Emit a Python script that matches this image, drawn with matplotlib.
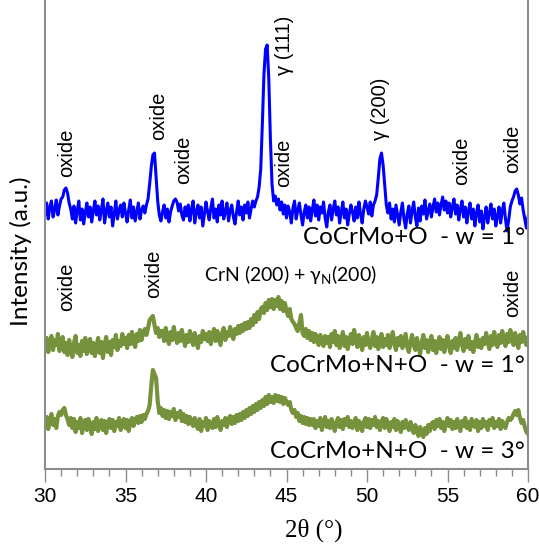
import numpy as np
import matplotlib
matplotlib.use("Agg")
import matplotlib.pyplot as plt

# Diffraction scans, 2-theta from 30 to 60 deg in 0.1 deg steps (intensity, arbitrary units, offset per scan)
co_cr_mo_o_w1 = [
    255, 266, 250, 262, 268, 252, 259, 269, 254, 263, 270,
    272, 279, 281, 276, 266, 260,
    250, 263, 246, 258, 268, 249, 260, 245, 256, 266, 252, 262, 247, 258,
    268, 254, 263, 249, 259, 270, 246, 257, 266, 252, 262, 243, 255, 268, 250, 259, 264, 252, 266,
    256, 247, 259, 269, 251, 262, 248, 257, 266, 250, 259, 263, 256,
    264, 270, 285, 302, 314, 316, 292, 268, 254, 248, 257,
    264, 251, 260, 247, 257, 263, 268, 270, 267, 258, 265, 254, 249, 262, 253, 264, 248,
    260, 268, 246, 257, 264, 251, 262, 243, 255, 267, 257, 249, 261, 270, 251, 260, 247, 264, 254, 268,
    250, 257, 266, 248, 259, 264, 252, 245, 257, 268, 254, 262, 249, 264, 256, 267, 251, 260, 268,
    262, 268, 272, 282, 300, 345, 395, 420, 424, 390, 330, 285, 268, 273, 264, 270, 259, 267, 255, 264,
    251, 263, 257, 246, 261, 268, 250, 259, 266, 254, 244, 257, 264, 251, 262, 248, 259, 269, 253, 264,
    249, 262, 256, 267, 251, 242, 257, 264, 249, 260, 268, 254, 262, 246, 257, 267, 251, 260, 244, 255,
    264, 257, 248, 262, 251, 267, 255, 246, 260, 268,
    262, 255, 267, 253, 264, 268, 274, 291, 310, 316, 304, 284, 264, 256, 266, 250,
    260, 247, 264, 254, 244, 257, 266, 250, 241, 255, 263, 246, 258, 267, 252, 243, 261, 248, 263, 255,
    269, 250, 258, 265, 252, 262, 270, 257, 266, 254, 264, 272, 259, 268, 256,
    266, 252, 262, 270, 255, 264, 249, 260, 268, 252, 262, 246, 258, 266, 250, 260, 243, 256, 264, 247,
    258, 240, 252, 262, 246, 256, 265, 250, 260, 243, 253, 262, 246, 258, 266, 250, 238, 249, 262, 268,
    272, 278, 280, 274, 265, 271, 259, 250, 241, 252,
]

co_cr_mo_n_o_w1 = [
    122, 131, 117, 127, 133, 119, 129, 124, 135, 118, 127,
    132, 117, 126, 114, 129, 120, 112, 126, 133, 116, 124, 113, 128, 118, 131, 115, 124, 130, 116,
    126, 113, 122, 131, 116, 127, 111, 124, 132, 117, 127, 114, 129, 122, 134, 119, 128, 123, 135, 125,
    131, 121, 134, 125, 137, 127, 122, 135, 128, 139, 129, 136, 140,
    134, 141, 149, 151, 153, 144, 136, 141, 132, 138,
    138, 128, 141, 131, 125, 137, 129, 142, 133, 126, 136, 128, 139, 131, 123, 134, 127, 138, 130, 124,
    136, 128, 121, 133, 127, 138, 130, 135,
    128, 137, 125, 134, 140, 128, 138, 131, 124, 136, 141, 129, 137, 133, 142, 134, 130, 140, 135, 143,
    136, 144, 138, 146, 140,
    147, 141, 150, 144, 154, 147, 157, 150, 160, 162, 156, 166, 159, 169, 162, 170, 160, 169, 163, 172,
    160, 168, 158, 166, 158, 153, 160, 150, 147, 145,
    141, 138, 146, 154, 136, 133, 140, 131, 138, 129, 136, 127, 135, 129, 124, 134, 127, 123, 133, 126,
    132, 122, 135, 127, 138, 124, 133, 121, 129, 137, 123, 132, 120, 128, 135, 125, 139, 129, 122, 134,
    127, 119, 132, 124, 136, 126, 121, 130, 137, 123, 132, 120, 128, 135, 122, 130, 124, 134, 121, 128,
    137, 125, 119, 131, 124,
    133, 121, 128, 135, 122, 117, 127, 134, 124, 119, 131, 122, 115, 127, 134, 121, 129, 117, 126, 133,
    119, 128, 116, 124, 132, 120, 129, 117, 126, 133, 122, 116, 128, 121, 131, 119, 128, 136, 124, 118,
    130, 122, 133, 120, 127, 117, 126, 134, 122, 129,
    121, 131, 125, 136, 127, 120, 133, 124, 137, 128, 122, 134, 126, 138, 129, 123, 135, 127, 139, 130,
    124, 136, 128, 121, 134, 127, 137, 129, 124, 131,
]

co_cr_mo_n_o_w3 = [
    43, 52, 40, 49, 55, 44, 50, 41, 53, 57, 54,
    59, 61, 54, 50, 44, 51,
    41, 50, 37, 47, 41, 51, 36, 46, 49, 39, 50, 43, 35, 47, 40, 51, 38, 46, 49,
    39, 48, 36, 46, 50, 41, 49, 38, 47, 43, 51, 39, 46, 50, 41, 49, 38, 47, 51, 43, 49, 52,
    46, 53, 47, 54, 50, 55, 58, 64, 83, 99, 95, 91, 68, 56, 61, 53,
    59, 51, 58, 50, 57, 53, 60, 49, 56, 52, 58, 48, 55, 47, 53, 45, 52, 47, 43, 51, 44,
    40, 50, 38, 47, 43, 51, 39, 48, 45, 41, 50, 42, 52, 46, 39, 48, 44, 51, 42, 50, 53, 45, 52, 46, 54, 48,
    55, 49, 57, 51, 59, 53, 61, 55, 63, 57, 65, 59, 67, 61, 69, 63, 72, 65, 74, 67,
    72, 66, 74, 68, 73, 67, 72, 65, 71, 67,
    64, 67, 59, 56, 59, 52, 56, 48, 53, 46, 52, 45, 51, 44, 50,
    44, 50, 41, 48, 43, 51, 39, 47, 52, 42, 48, 41, 50, 44, 38, 47, 51, 42, 49, 40,
    50, 44, 52, 42, 48, 41, 47, 51, 39, 48, 45, 38, 47, 51, 42, 50, 41, 49, 44, 52,
    42, 48, 39, 47, 51, 41, 50, 44, 38, 47, 42, 50, 39, 48, 44, 37, 47, 41, 49, 43,
    39, 47, 41, 36, 44,
    38, 33, 42, 36, 32, 41, 35, 44, 38, 45,
    47, 40, 49, 43, 50, 41, 47, 38, 45, 51, 43, 49, 40, 47, 41, 50, 44, 38, 48, 43,
    51, 41, 47, 39, 50, 44, 42, 49, 38, 47, 41, 50, 43, 47, 39, 49, 44, 51, 41, 47,
    43, 50, 40, 48, 44, 41, 47, 51, 49,
    51, 55, 58, 54, 59, 51, 46, 49, 42, 37, 35,
]

series_labels = ["CoCrMo+O  - w = 1°", "CoCrMo+N+O  - w = 1°", "CoCrMo+N+O  - w = 3°"]
series_colors = ["#0000ff", "#76923c", "#76923c"]
series_widths = [2.2, 3.0, 3.0]

# Peak annotations: (2-theta, intensity at text bottom, text)
peak_labels = [
    (31.37, 292, "oxide"), (37.03, 329, "oxide"), (38.62, 285, "oxide"),
    (44.80, 282, "oxide"), (44.90, 394, "γ (111)"), (50.85, 329, "γ (200)"),
    (55.90, 284, "oxide"), (59.06, 296, "oxide"),
    (31.37, 158, "oxide"), (36.72, 171, "oxide"), (59.06, 152, "oxide"),
]
series_label_pos = [(59.82, 232), (59.82, 103), (59.82, 18)]

fig = plt.figure(figsize=(5.39, 5.44), dpi=100)
ax = fig.add_axes([45 / 539, 75 / 544, 483 / 539, 469 / 544])

for vals, col, lw in zip([co_cr_mo_o_w1, co_cr_mo_n_o_w1, co_cr_mo_n_o_w3], series_colors, series_widths):
    two_theta = np.linspace(30, 60, len(vals))
    ax.plot(two_theta, vals, color=col, lw=lw, solid_joinstyle="round")

ax.set_xlim(30, 60)
ax.set_ylim(0, 469)
ax.set_yticks([])
ax.set_xticks(np.arange(30, 61, 5))
ax.set_xticks(np.arange(30, 61, 1), minor=True)
ax.tick_params(axis="x", which="major", direction="out", length=9, width=1, color="#8c8c8c",
               labelsize=15, pad=4)
ax.tick_params(axis="x", which="minor", direction="out", length=5, width=1, color="#8c8c8c")
for lab in ax.get_xticklabels():
    lab.set_family("Liberation Sans")

ax.spines["top"].set_visible(False)
for s in ["left", "right", "bottom"]:
    ax.spines[s].set_color("#8c8c8c")
    ax.spines[s].set_linewidth(1.5)

for x, y, txt in peak_labels:
    ax.text(x, y, txt, rotation=90, ha="center", va="bottom", fontsize=14.5,
            family=["Liberation Sans", "DejaVu Sans"])

for (x, y), txt in zip(series_label_pos, series_labels):
    ax.text(x, y, txt, ha="right", va="center", fontsize=17.5, family=["Lato", "DejaVu Sans"])

ax.text(45.25, 194, r"CrN (200) + γ$_{\mathregular{N}}$(200)", ha="center", va="center",
        fontsize=14, family=["Lato", "DejaVu Sans"])

fig.text(314 / 539, 1 - 530 / 544, "2θ (°)", ha="center", va="center", fontsize=18,
         family=["Liberation Serif", "DejaVu Serif"])
fig.text(21 / 539, 1 - 251 / 544, "Intensity (a.u.)", rotation=90, ha="center", va="center",
         fontsize=17.5, family=["Lato", "DejaVu Sans"])

fig.savefig("out.png", dpi=100)
